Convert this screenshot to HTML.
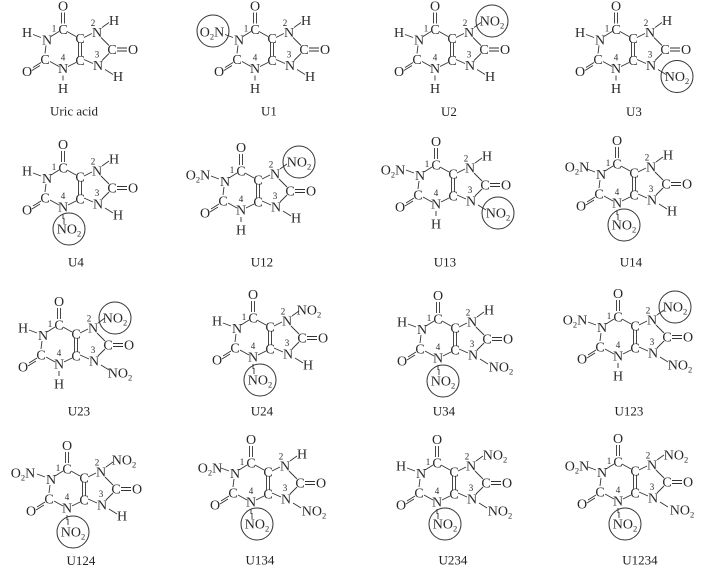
<!DOCTYPE html>
<html><head><meta charset="utf-8"><title>Uric acid nitro derivatives</title>
<style>
html,body{margin:0;padding:0;background:#fff}
svg{display:block;filter:blur(.3px)}
text{font-family:"Liberation Serif",serif;font-size:14px;fill:#2a2a2a;text-anchor:middle}
.n{font-size:9px}
.l{font-size:13px;fill:#222}
.s{font-size:8.5px}
use,.t{stroke:#333;stroke-width:.9;fill:none}
circle{fill:none;stroke:#333;stroke-width:1}
</style></head><body>
<svg xmlns="http://www.w3.org/2000/svg" width="718" height="567" viewBox="0 0 718 567">
<defs><path id="b" d="M-1.5,-17V-6M1.5,-17V-6M-4,2L-12,7M-17,16L-18,24M-22,33L-30,38M-23,36L-31,41M-13,32L-4,37M5,37L13,33M15.5,13V27M18.5,13V27M4,2L13,7M21,8L29,4M38,8L46,16M54,18.5H64M54,21.5H64M46,24L39,31M21,30L30,34M-30,5L-22,8M0,46V51M39,-2L46,-7M42,40L50,45"/></defs>

<g transform="translate(63,29.5)"><use href="#b"/>
<text x="0 0 -16 -18 0 17 17 34 49 70 35 -36" y="-19 4.6 15 34.6 43.6 35.6 13.6 7.6 24.6 24.6 40.6 46.6">OCNCNCCNCONO</text>
<text class="n" x="-9 0 30 34" y="2 31 -3.5 28">1423</text>
<text x="-36" y="7.6">H</text><text x="51" y="-4.4">H</text><text x="55" y="51.6">H</text><text x="0" y="63.6">H</text></g>

<g transform="translate(255,29.5)"><use href="#b"/>
<text x="0 0 -16 -18 0 17 17 34 49 70 35 -36" y="-19 4.6 15 34.6 43.6 35.6 13.6 7.6 24.6 24.6 40.6 46.6">OCNCNCCNCONO</text>
<text class="n" x="-9 0 30 34" y="2 31 -3.5 28">1423</text>
<circle cx="-42" cy="1.5" r="16"/><text x="-43" y="7">O<tspan class="s" dy="3">2</tspan><tspan dy="-3">N</tspan></text>
<text x="51" y="-4.4">H</text><text x="55" y="51.6">H</text><text x="0" y="63.6">H</text></g>

<g transform="translate(435,29.5)"><use href="#b"/>
<text x="0 0 -16 -18 0 17 17 34 49 70 35 -36" y="-19 4.6 15 34.6 43.6 35.6 13.6 7.6 24.6 24.6 40.6 46.6">OCNCNCCNCONO</text>
<text class="n" x="-9 0 30 34" y="2 31 -3.5 28">1423</text>
<text x="-36" y="7.6">H</text>
<circle cx="57" cy="-8.5" r="16"/><text x="57" y="-4">NO<tspan class="s" dy="3">2</tspan></text>
<text x="55" y="51.6">H</text><text x="0" y="63.6">H</text></g>

<g transform="translate(616,29.5)"><use href="#b"/>
<text x="0 0 -16 -18 0 17 17 34 49 70 35 -36" y="-19 4.6 15 34.6 43.6 35.6 13.6 7.6 24.6 24.6 40.6 46.6">OCNCNCCNCONO</text>
<text class="n" x="-9 0 30 34" y="2 31 -3.5 28">1423</text>
<text x="-36" y="7.6">H</text><text x="51" y="-4.4">H</text>
<circle cx="61" cy="47" r="16"/><text x="61" y="51.6">NO<tspan class="s" dy="3">2</tspan></text>
<text x="0" y="63.6">H</text></g>

<g transform="translate(63,168)"><use href="#b"/><path class="t" d="M1,50V56"/>
<text x="0 0 -16 -18 0 17 17 34 49 70 35 -36" y="-19 4.6 15 34.6 43.6 35.6 13.6 7.6 24.6 24.6 40.6 46.6">OCNCNCCNCONO</text>
<text class="n" x="-9 0 30 34" y="2 31 -3.5 28">1423</text>
<text x="-36" y="7.6">H</text><text x="51" y="-4.4">H</text><text x="55" y="51.6">H</text>
<circle cx="6" cy="61" r="16"/><text x="6" y="65.6">NO<tspan class="s" dy="3">2</tspan></text></g>

<g transform="translate(241,171)"><use href="#b"/>
<text x="0 0 -16 -18 0 17 17 34 49 70 35 -36" y="-19 4.6 15 34.6 43.6 35.6 13.6 7.6 24.6 24.6 40.6 46.6">OCNCNCCNCONO</text>
<text class="n" x="-9 0 30 34" y="2 31 -3.5 28">1423</text>
<text x="-43" y="8.6">O<tspan class="s" dy="3">2</tspan><tspan dy="-3">N</tspan></text>
<circle cx="58" cy="-9" r="16"/><text x="58" y="-4.4">NO<tspan class="s" dy="3">2</tspan></text>
<text x="55" y="51.6">H</text><text x="0" y="63.6">H</text></g>

<g transform="translate(436,165)"><use href="#b"/>
<text x="0 0 -16 -18 0 17 17 34 49 70 35 -36" y="-19 4.6 15 34.6 43.6 35.6 13.6 7.6 24.6 24.6 40.6 46.6">OCNCNCCNCONO</text>
<text class="n" x="-9 0 30 34" y="2 31 -3.5 28">1423</text>
<text x="-43" y="9.6">O<tspan class="s" dy="3">2</tspan><tspan dy="-3">N</tspan></text>
<text x="51" y="-4.4">H</text>
<circle cx="62" cy="48" r="16"/><text x="62" y="52.6">NO<tspan class="s" dy="3">2</tspan></text>
<text x="0" y="63.6">H</text></g>

<g transform="translate(617,164)"><use href="#b"/><path class="t" d="M1,50V56"/>
<text x="0 0 -16 -18 0 17 17 34 49 70 35 -36" y="-19 4.6 15 34.6 43.6 35.6 13.6 7.6 24.6 24.6 40.6 46.6">OCNCNCCNCONO</text>
<text class="n" x="-9 0 30 34" y="2 31 -3.5 28">1423</text>
<text x="-40" y="7.6">O<tspan class="s" dy="3">2</tspan><tspan dy="-3">N</tspan></text>
<text x="51" y="-4.4">H</text><text x="55" y="51.6">H</text>
<circle cx="7" cy="61" r="16"/><text x="7" y="65.6">NO<tspan class="s" dy="3">2</tspan></text></g>

<g transform="translate(59,325)"><use href="#b"/>
<text x="0 0 -16 -18 0 17 17 34 49 70 35 -36" y="-19 4.6 15 34.6 43.6 35.6 13.6 7.6 24.6 24.6 40.6 46.6">OCNCNCCNCONO</text>
<text class="n" x="-9 0 30 34" y="2 31 -3.5 28">1423</text>
<text x="-36" y="7.6">H</text>
<circle cx="56" cy="-7" r="16"/><text x="56" y="-2.4">NO<tspan class="s" dy="3">2</tspan></text>
<text x="61" y="52.6">NO<tspan class="s" dy="3">2</tspan></text>
<text x="0" y="63.6">H</text></g>

<g transform="translate(253,318)"><use href="#b"/><path class="t" d="M1,50V56"/>
<text x="0 0 -16 -18 0 17 17 34 49 70 35 -36" y="-19 4.6 15 34.6 43.6 35.6 13.6 7.6 24.6 24.6 40.6 46.6">OCNCNCCNCONO</text>
<text class="n" x="-9 0 30 34" y="2 31 -3.5 28">1423</text>
<text x="-36" y="7.6">H</text>
<text x="56" y="-3.4">NO<tspan class="s" dy="3">2</tspan></text>
<text x="55" y="51.6">H</text>
<circle cx="7" cy="62" r="16"/><text x="7" y="66.6">NO<tspan class="s" dy="3">2</tspan></text></g>

<g transform="translate(438,319)"><use href="#b"/><path class="t" d="M1,50V56"/>
<text x="0 0 -16 -18 0 17 17 34 49 70 35 -36" y="-19 4.6 15 34.6 43.6 35.6 13.6 7.6 24.6 24.6 40.6 46.6">OCNCNCCNCONO</text>
<text class="n" x="-9 0 30 34" y="2 31 -3.5 28">1423</text>
<text x="-36" y="7.6">H</text><text x="51" y="-4.4">H</text>
<text x="63" y="52.6">NO<tspan class="s" dy="3">2</tspan></text>
<circle cx="5" cy="62" r="16"/><text x="5" y="66.6">NO<tspan class="s" dy="3">2</tspan></text></g>

<g transform="translate(618,317)"><use href="#b"/>
<text x="0 0 -16 -18 0 17 17 34 49 70 35 -36" y="-19 4.6 15 34.6 43.6 35.6 13.6 7.6 24.6 24.6 40.6 46.6">OCNCNCCNCONO</text>
<text class="n" x="-9 0 30 34" y="2 31 -3.5 28">1423</text>
<text x="-43" y="7.6">O<tspan class="s" dy="3">2</tspan><tspan dy="-3">N</tspan></text>
<circle cx="57" cy="-10" r="16"/><text x="57" y="-5.4">NO<tspan class="s" dy="3">2</tspan></text>
<text x="62" y="52.6">NO<tspan class="s" dy="3">2</tspan></text>
<text x="0" y="63.6">H</text></g>

<g transform="translate(67,469)"><use href="#b"/><path class="t" d="M1,50V56"/>
<text x="0 0 -16 -18 0 17 17 34 49 70 35 -36" y="-19 4.6 15 34.6 43.6 35.6 13.6 7.6 24.6 24.6 40.6 46.6">OCNCNCCNCONO</text>
<text class="n" x="-9 0 30 34" y="2 31 -3.5 28">1423</text>
<text x="-44" y="8.6">O<tspan class="s" dy="3">2</tspan><tspan dy="-3">N</tspan></text>
<text x="57" y="-4.4">NO<tspan class="s" dy="3">2</tspan></text>
<text x="55" y="51.6">H</text>
<circle cx="6" cy="63" r="16"/><text x="6" y="67.6">NO<tspan class="s" dy="3">2</tspan></text></g>

<g transform="translate(251,463)"><use href="#b"/><path class="t" d="M1,50V56"/>
<text x="0 0 -16 -18 0 17 17 34 49 70 35 -36" y="-19 4.6 15 34.6 43.6 35.6 13.6 7.6 24.6 24.6 40.6 46.6">OCNCNCCNCONO</text>
<text class="n" x="-9 0 30 34" y="2 31 -3.5 28">1423</text>
<text x="-41" y="9.6">O<tspan class="s" dy="3">2</tspan><tspan dy="-3">N</tspan></text>
<text x="51" y="-4.4">H</text>
<text x="63" y="52.6">NO<tspan class="s" dy="3">2</tspan></text>
<circle cx="6" cy="61" r="16"/><text x="6" y="65.6">NO<tspan class="s" dy="3">2</tspan></text></g>

<g transform="translate(437,463)"><use href="#b"/><path class="t" d="M1,50V56"/>
<text x="0 0 -16 -18 0 17 17 34 49 70 35 -36" y="-19 4.6 15 34.6 43.6 35.6 13.6 7.6 24.6 24.6 40.6 46.6">OCNCNCCNCONO</text>
<text class="n" x="-9 0 30 34" y="2 31 -3.5 28">1423</text>
<text x="-36" y="7.6">H</text>
<text x="58" y="-3.4">NO<tspan class="s" dy="3">2</tspan></text>
<text x="63" y="52.6">NO<tspan class="s" dy="3">2</tspan></text>
<circle cx="8" cy="61" r="16"/><text x="8" y="65.6">NO<tspan class="s" dy="3">2</tspan></text></g>

<g transform="translate(618,462)"><use href="#b"/><path class="t" d="M1,50V56"/>
<text x="0 0 -16 -18 0 17 17 34 49 70 35 -36" y="-19 4.6 15 34.6 43.6 35.6 13.6 7.6 24.6 24.6 40.6 46.6">OCNCNCCNCONO</text>
<text class="n" x="-9 0 30 34" y="2 31 -3.5 28">1423</text>
<text x="-41" y="8.6">O<tspan class="s" dy="3">2</tspan><tspan dy="-3">N</tspan></text>
<text x="58" y="-2.4">NO<tspan class="s" dy="3">2</tspan></text>
<text x="64" y="52.6">NO<tspan class="s" dy="3">2</tspan></text>
<circle cx="7" cy="62" r="16"/><text x="7" y="66.6">NO<tspan class="s" dy="3">2</tspan></text></g>

<text class="l" x="74" y="115.5">Uric acid</text>
<text class="l" x="269" y="115.5">U1</text>
<text class="l" x="449" y="116">U2</text>
<text class="l" x="634" y="116">U3</text>
<text class="l" x="76" y="266.5">U4</text>
<text class="l" x="262" y="266.5">U12</text>
<text class="l" x="445" y="266.5">U13</text>
<text class="l" x="631" y="266.5">U14</text>
<text class="l" x="79" y="415.5">U23</text>
<text class="l" x="262" y="415.5">U24</text>
<text class="l" x="444" y="415.5">U34</text>
<text class="l" x="629" y="415.5">U123</text>
<text class="l" x="81" y="565">U124</text>
<text class="l" x="260" y="564.5">U134</text>
<text class="l" x="453" y="564.5">U234</text>
<text class="l" x="640" y="564.5">U1234</text>
</svg>
</body></html>
